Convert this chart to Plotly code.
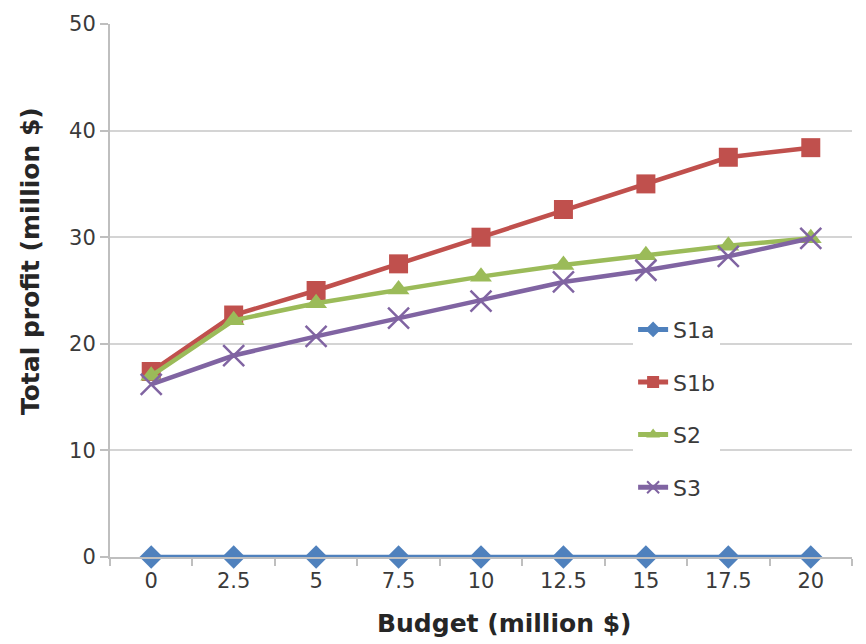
import plotly.graph_objects as go

# Budget levels (million $) shown as evenly spaced categories
budget = ["0", "2.5", "5", "7.5", "10", "12.5", "15", "17.5", "20"]

# Total profit (million $) for each strategy
s1a = [0, 0, 0, 0, 0, 0, 0, 0, 0]
s1b = [17.4, 22.7, 25.0, 27.5, 30.0, 32.6, 35.0, 37.5, 38.4]
s2 = [17.0, 22.2, 23.8, 25.1, 26.3, 27.4, 28.3, 29.2, 29.9]
s3 = [16.2, 18.9, 20.7, 22.4, 24.0, 25.8, 26.9, 28.2, 29.9]

series = [
    ("S1a", s1a, "#4F81BD", "diamond", 18),
    ("S1b", s1b, "#C0504D", "square", 19),
    ("S2", s2, "#9BBB59", "triangle-up", 19),
    ("S3", s3, "#8064A2", "x-thin", 21),
]

FONT = "DejaVu Sans"

fig = go.Figure()
for i, (name, vals, color, symbol, size) in enumerate(series):
    marker = dict(symbol=symbol, size=size, color=color)
    if symbol == "x-thin":
        marker["line"] = dict(color=color, width=2.5)
    fig.add_trace(go.Scatter(
        x=budget, y=vals, name=name, mode="lines+markers",
        line=dict(color=color, width=4.5),
        marker=marker,
        legendgroup=f"g{i}",
        cliponaxis=False,
    ))

# Axis titles placed as annotations for finer positioning
fig.add_annotation(
    text="<b>Budget (million $)</b>", xref="paper", yref="paper",
    x=0.531, y=-0.124, xanchor="center", yanchor="middle", showarrow=False,
    font=dict(family=FONT, size=25, color="#262626"),
)
fig.add_annotation(
    text="<b>Total profit (million $)</b>", xref="paper", yref="paper",
    x=-0.108, y=0.555, xanchor="center", yanchor="middle", showarrow=False,
    textangle=-90,
    font=dict(family=FONT, size=25, color="#262626"),
)

fig.update_layout(
    width=866, height=644,
    margin=dict(l=110, r=14, t=22, b=87),
    paper_bgcolor="white", plot_bgcolor="white",
    font=dict(family=FONT, size=21, color="#3A3A3A"),
    showlegend=True,
    legend=dict(
        x=0.705, y=0.466, xanchor="left", yanchor="top",
        bgcolor="white", borderwidth=0,
        font=dict(family=FONT, size=22, color="#3A3A3A"),
        tracegroupgap=21,
        itemsizing="constant",
    ),
    xaxis=dict(
        type="category",
        range=[-0.5, 8.5],
        showgrid=False,
        showline=True, linecolor="#BFBFBF", linewidth=2,
        ticks="outside", tickson="boundaries", ticklen=7,
        tickcolor="#BFBFBF", tickwidth=1.5,
        ticklabelstandoff=4,
        tickfont=dict(family=FONT, size=21, color="#3A3A3A"),
        zeroline=False,
    ),
    yaxis=dict(
        range=[0, 50],
        tickvals=[0, 10, 20, 30, 40, 50],
        showgrid=True, gridcolor="#D4D4D4", gridwidth=2,
        showline=True, linecolor="#BFBFBF", linewidth=2,
        ticks="outside", ticklen=8, tickcolor="#BFBFBF", tickwidth=1.5,
        tickfont=dict(family=FONT, size=21, color="#3A3A3A"),
        zeroline=False,
    ),
)

fig.write_html("out.html")
